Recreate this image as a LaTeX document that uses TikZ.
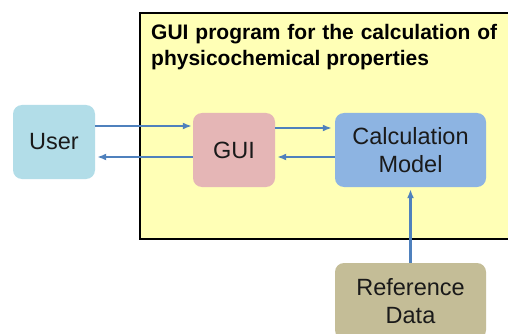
\documentclass[tikz,border=0pt]{standalone}
\usepackage{fontspec}
\setmainfont{Liberation Sans}
\usetikzlibrary{arrows.meta}
\definecolor{frameyellow}{RGB}{255,255,182}
\definecolor{userblue}{RGB}{178,221,232}
\definecolor{guipink}{RGB}{229,182,182}
\definecolor{calcblue}{RGB}{141,180,226}
\definecolor{reftan}{RGB}{196,189,151}
\definecolor{arrowblue}{RGB}{79,129,189}
\definecolor{txt}{RGB}{26,26,26}
\tikzset{
  boxnode/.style={rounded corners=9pt, draw=none, inner sep=0pt, align=center,
    text=txt, font=\fontsize{23.5}{28}\selectfont},
  arr/.style={draw=arrowblue, line width=2.2pt, -{Latex[length=9pt,width=7pt]}}
}
\begin{document}
\begin{tikzpicture}[x=1pt,y=-1pt]
\useasboundingbox (0,0) rectangle (508,334);
\clip (0,0) rectangle (508,334);
\fill[white] (0,0) rectangle (508,334);
\draw[fill=frameyellow, line width=2pt, draw=black] (140,13) rectangle (530,239);
\node[anchor=north west, inner sep=0pt, text width=346pt, align=justify,
  font=\bfseries\fontsize{21}{26}\selectfont, text=black] (title) at (151,24.5)
  {GUI program for the calculation of\linebreak physicochemical properties};
\node[boxnode, fill=userblue, minimum width=82pt, minimum height=74pt] (user) at (54,142) {User};
\node[boxnode, fill=guipink, minimum width=82pt, minimum height=74pt] (gui) at (234,150) {GUI};
\node[boxnode, fill=calcblue, minimum width=151pt, minimum height=74pt] (calc) at (410.5,150) {Calculation\\Model};
\node[boxnode, fill=reftan, minimum width=151pt, minimum height=76pt, text depth=0pt] (ref) at (410.5,301) {Reference\\Data};
\draw[arr, shorten >=1pt] ([yshift=16pt]user.east) -- ([yshift=16pt]user.east -| gui.west);
\draw[arr, shorten >=2pt] ([yshift=-7pt]gui.west) -- ([yshift=-7pt]gui.west -| user.east);
\draw[arr, shorten >=3pt] ([yshift=22pt]gui.east) -- ([yshift=22pt]gui.east -| calc.west);
\draw[arr, shorten >=2pt] ([yshift=-7pt]calc.west) -- ([yshift=-7pt]calc.west -| gui.east);
\draw[arr, shorten >=2pt] (ref.north) -- (calc.south);
\end{tikzpicture}
\end{document}
